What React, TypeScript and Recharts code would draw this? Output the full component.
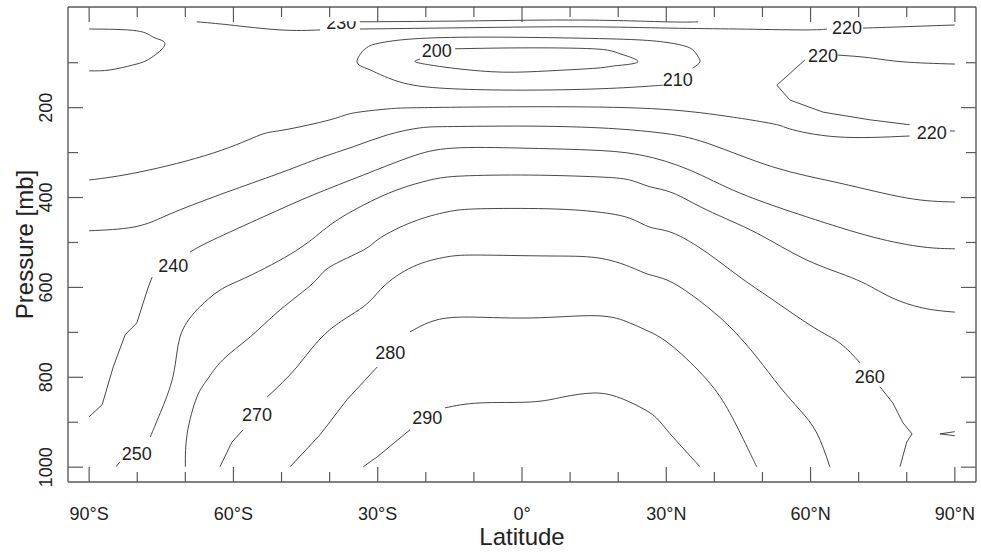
import React from 'react';
import { ScatterChart, Scatter, XAxis, YAxis } from 'recharts';

type Pt = [number, number];

// zonal mean temperature contours: [latitude (S < 0), pressure mb]
const c230a: Pt[] = [[-67.6, 9], [-60.7, 16], [-50.3, 27], [-42.0, 27]];
const c230b: Pt[] = [[-33.7, 9], [-10.8, 7], [12.1, 5], [30.1, 9], [36.6, 9]];
const c220topA: Pt[] = [[-33.7, 25], [-10.8, 22], [12.1, 20], [30.8, 23], [44.7, 25], [58.4, 27], [63.4, 25]];
const c220topB: Pt[] = [[70.9, 23], [79.2, 20], [90, 16]];
const c220sp: Pt[] = [[-90, 25], [-80.1, 29], [-76.7, 43], [-74.6, 52], [-74.8, 69], [-77.9, 94], [-80.9, 105], [-85.6, 116], [-90, 118]];
const c210: Pt[] = [
  [29.3, 150], [26.6, 152], [16.2, 158], [0, 161], [-14.3, 158], [-24.7, 145], [-31.6, 116], [-34.3, 98],
  [-32.6, 69], [-29.5, 56], [-22.7, 47], [-8.7, 43], [10, 45], [23.9, 49], [30.8, 56], [34.9, 67],
  [36.4, 83], [37, 98], [35.5, 112],
];
const c200: Pt[] = [
  [-13.9, 69], [-0.4, 67], [14.8, 69], [20.4, 80], [24.1, 98], [19.3, 107], [15.6, 112], [5.8, 118],
  [-3.9, 121], [-12.9, 114], [-19.1, 105], [-22.2, 98], [-21.2, 92],
];
const c220a: Pt[] = [
  [-90, 361], [-79.4, 343], [-64.2, 301], [-54.5, 261], [-49.7, 250], [-39.9, 227], [-35.1, 212],
  [-28.1, 203], [-21.2, 200], [0, 198], [24.5, 201], [40.5, 216], [52.2, 236], [55.6, 247],
  [65.5, 265], [80.6, 263],
];
const c220b: Pt[] = [[89, 252], [90, 252]];
const c220n: Pt[] = [[90, 103], [79.2, 98], [72.3, 89], [65.7, 83]];
const c220m: Pt[] = [[58.8, 94], [53, 150], [55.7, 183], [62.6, 210], [72.3, 227], [80.6, 238]];
const c230: Pt[] = [
  [-90, 474], [-80.9, 466], [-75.2, 446], [-69.6, 421], [-60.1, 383], [-49.7, 343], [-42, 312],
  [-35.1, 287], [-28.1, 261], [-21.2, 245], [-14.3, 242], [0, 241], [16.2, 245], [28.7, 256],
  [38.5, 279], [52.2, 332], [66.1, 368], [80, 401], [90, 410],
];
const c240a: Pt[] = [[-90, 888], [-87.3, 861], [-85, 777], [-82.5, 705], [-80.1, 679], [-77.7, 599], [-76.9, 577]];
const c240b: Pt[] = [
  [-69, 521], [-64.2, 494], [-53.8, 443], [-43.4, 394], [-33, 350], [-23.3, 310], [-14.3, 290], [0, 290],
  [13.5, 294], [24.5, 305], [34.9, 339], [45.3, 390], [59.2, 443], [73, 488], [83.4, 510], [90, 514],
];
const c250a: Pt[] = [[-84.4, 999], [-83.6, 988]];
const c250b: Pt[] = [
  [-77.3, 933], [-75.2, 879], [-72.5, 795], [-71.1, 710], [-67.6, 650], [-62.8, 606],
  [-57.2, 577], [-46.8, 517], [-39.9, 461], [-33, 417], [-26, 383], [-19.1, 361], [-12.3, 352], [1.7, 350],
  [15.6, 354], [22.4, 361], [26.6, 376], [31.4, 390], [38.5, 428], [48.8, 479], [59.2, 539], [69.6, 583],
  [76.5, 621], [83.4, 646], [90, 655],
];
const c260a: Pt[] = [
  [-70, 999], [-69.6, 924], [-67.6, 844], [-65.5, 806], [-62.2, 761], [-56.5, 710], [-50.3, 650],
  [-43.4, 590], [-39.9, 554], [-33, 517], [-29.5, 490], [-22.7, 454], [-15.6, 432], [-8.7, 425], [5.2, 425],
  [15.6, 432], [22.4, 446], [26.6, 466], [31.4, 479], [38.5, 523], [45.3, 577], [52.2, 628], [60.5, 688],
  [66.1, 724], [70.3, 768],
];
const c260b: Pt[] = [[74.4, 821], [77.1, 857], [79.2, 901], [81.1, 926], [80, 944], [78.6, 999]];
const c260c: Pt[] = [[90, 921], [86.9, 926], [90, 930]];
const c270a: Pt[] = [[-62.8, 999], [-60.3, 944], [-58, 917]];
const c270b: Pt[] = [
  [-53, 844], [-46.8, 777], [-40.5, 699], [-33, 643], [-28.9, 599], [-22.7, 554], [-15.6, 532], [-8.7, 528],
  [5.2, 530], [15.6, 534], [22.4, 554], [26.6, 572], [31.4, 590], [38.5, 643], [43.9, 695], [48.8, 755],
  [53.6, 821], [57.8, 873], [61.3, 924], [64, 999],
];
const c280a: Pt[] = [[-48.2, 999], [-42, 928], [-36.4, 850], [-30.1, 777]];
const c280b: Pt[] = [
  [-23.3, 699], [-19.1, 677], [-12.3, 666], [1.7, 668], [15.6, 663], [22.4, 679], [26.6, 699],
  [31.4, 732], [38.5, 806], [43.2, 879], [46.8, 955], [48.8, 999],
];
const c290a: Pt[] = [[-33, 999], [-30.1, 977], [-23.3, 917]];
const c290b: Pt[] = [[-16, 868], [-8.7, 857], [1.7, 855], [8.5, 844], [14.8, 835], [20.4, 846], [26.6, 879], [30.1, 917], [37, 999]];

// smooth curves vs. the kinked pieces that stay straight-segmented
const smoothContours = [
  c230a, c230b, c220topA, c220topB, c220sp, c210, c200, c220a, c220n, c230,
  c240b, c250b, c260a, c270b, c280b, c290b,
];
const kinkedContours = [c220b, c220m, c240a, c250a, c260b, c260c, c270a, c280a, c290a];

// contour labels
const labelText = ['230', '220', '220', '220', '210', '200', '240', '250', '260', '270', '280', '290'];
const labelLat = [-37.6, 67.6, 62.6, 85.2, 32.4, -17.7, -72.5, -80.1, 72.3, -55.1, -27.4, -19.7];
const labelP = [12, 23, 85, 256, 138, 74, 552, 970, 799, 884, 746, 890];

// axes
const latTicks = [-90, -80, -70, -60, -50, -40, -30, -20, -10, 0, 10, 20, 30, 40, 50, 60, 70, 80, 90];
const latMajor = [-90, -60, -30, 0, 30, 60, 90];
const latLabels = ['90°S', '60°S', '30°S', '0°', '30°N', '60°N', '90°N'];
const pTicks = [100, 200, 300, 400, 500, 600, 700, 800, 900, 1000];
const pMajor = [200, 400, 600, 800, 1000];
const pLabels = ['200', '400', '600', '800', '1000'];

const FONT = '"Liberation Sans", Arial, Helvetica, sans-serif';
const INK = '#222';
const FRAME = '#5a5a5a';
const LINE = '#333';

const noDot = () => <g />;

const labelData = labelText.map((t, i) => ({ x: labelLat[i], y: labelP[i], t, clip: labelP[i] < 20 }));

const LabelMark = (props: any) => {
  const { cx, cy } = props;
  const d = props.payload || props;
  const txt = (
    <text x={cx} y={cy} textAnchor="middle" dominantBaseline="central" fontSize={18} fontFamily={FONT} fill={INK}>
      {d.t}
    </text>
  );
  if (!d.clip) return <g>{txt}</g>;
  return (
    <g>
      <defs>
        <clipPath id="topLabelClip">
          <rect x={cx - 30} y={cy - 2} width={60} height={30} />
        </clipPath>
      </defs>
      <g clipPath="url(#topLabelClip)">{txt}</g>
    </g>
  );
};

const BottomTick = (props: any) => {
  const { x, y, payload } = props;
  const i = latMajor.indexOf(payload.value);
  return (
    <g>
      <line x1={x} y1={y} x2={x} y2={y - (i >= 0 ? 15 : 10)} stroke={FRAME} strokeWidth={1.2} />
      {i >= 0 && (
        <text x={x} y={y + 38} textAnchor="middle" fontSize={18} fontFamily={FONT} fill={INK}>
          {latLabels[i]}
        </text>
      )}
    </g>
  );
};

const TopTick = (props: any) => {
  const { x, y, payload } = props;
  const major = latMajor.indexOf(payload.value) >= 0;
  return <line x1={x} y1={y} x2={x} y2={y + (major ? 15 : 10)} stroke={FRAME} strokeWidth={1.2} />;
};

const LeftTick = (props: any) => {
  const { x, y, payload } = props;
  const i = pMajor.indexOf(payload.value);
  const bx = x - 16;
  return (
    <g>
      <line x1={x} y1={y} x2={x + (i >= 0 ? 15 : 10)} y2={y} stroke={FRAME} strokeWidth={1.2} />
      {i >= 0 && (
        <text x={bx} y={y} transform={`rotate(-90, ${bx}, ${y})`} textAnchor="middle" fontSize={18} fontFamily={FONT} fill={INK}>
          {pLabels[i]}
        </text>
      )}
    </g>
  );
};

const RightTick = (props: any) => {
  const { x, y, payload } = props;
  const major = pMajor.indexOf(payload.value) >= 0;
  return <line x1={x} y1={y} x2={x - (major ? 15 : 10)} y2={y} stroke={FRAME} strokeWidth={1.2} />;
};

const xTitle = (props: any) => {
  const vb = props.viewBox || { x: 68, y: 482, width: 908, height: 71 };
  return (
    <text x={vb.x + vb.width / 2} y={vb.y + 63} textAnchor="middle" fontSize={24} fontFamily={FONT} fill={INK}>
      Latitude
    </text>
  );
};

const yTitle = (props: any) => {
  const vb = props.viewBox || { x: 0, y: 7, width: 68, height: 475 };
  const tx = 33;
  const ty = vb.y + vb.height / 2;
  return (
    <text x={tx} y={ty} transform={`rotate(-90, ${tx}, ${ty})`} textAnchor="middle" fontSize={24} fontFamily={FONT} fill={INK}>
      Pressure [mb]
    </text>
  );
};

const latDomain = [-94.4, 94.4];
const pDomain = [-24, 1033];

export default function App() {
  return (
    <div style={{ position: 'absolute', left: 0, top: 0, background: '#fff' }}>
      <ScatterChart width={981} height={553} margin={{ top: 0, right: 0, bottom: 0, left: 0 }}>
        <XAxis
          xAxisId="b"
          dataKey="x"
          type="number"
          domain={latDomain}
          allowDataOverflow
          ticks={latTicks}
          interval={0}
          tickSize={0}
          tickMargin={0}
          tick={BottomTick}
          tickLine={false}
          axisLine={{ stroke: FRAME, strokeWidth: 1.4 }}
          height={71}
          label={xTitle}
        />
        <XAxis
          xAxisId="t"
          orientation="top"
          dataKey="x"
          type="number"
          domain={latDomain}
          allowDataOverflow
          ticks={latTicks}
          interval={0}
          tickSize={0}
          tickMargin={0}
          tick={TopTick}
          tickLine={false}
          axisLine={{ stroke: FRAME, strokeWidth: 1.4 }}
          height={7}
        />
        <YAxis
          yAxisId="l"
          dataKey="y"
          type="number"
          domain={pDomain}
          allowDataOverflow
          reversed
          ticks={pTicks}
          interval={0}
          tickSize={0}
          tickMargin={0}
          tick={LeftTick}
          tickLine={false}
          axisLine={{ stroke: FRAME, strokeWidth: 1.4 }}
          width={68}
          label={yTitle}
        />
        <YAxis
          yAxisId="r"
          orientation="right"
          dataKey="y"
          type="number"
          domain={pDomain}
          allowDataOverflow
          reversed
          ticks={pTicks}
          interval={0}
          tickSize={0}
          tickMargin={0}
          tick={RightTick}
          tickLine={false}
          axisLine={{ stroke: FRAME, strokeWidth: 1.4 }}
          width={5}
        />
        {smoothContours.map((c, i) => (
          <Scatter
            key={`s${i}`}
            xAxisId="b"
            yAxisId="l"
            data={c.map(([x, y]) => ({ x, y }))}
            line={{ stroke: LINE, strokeWidth: 0.9 }}
            lineJointType="natural"
            shape={noDot}
            isAnimationActive={false}
          />
        ))}
        {kinkedContours.map((c, i) => (
          <Scatter
            key={`k${i}`}
            xAxisId="b"
            yAxisId="l"
            data={c.map(([x, y]) => ({ x, y }))}
            line={{ stroke: LINE, strokeWidth: 0.9 }}
            shape={noDot}
            isAnimationActive={false}
          />
        ))}
        <Scatter xAxisId="b" yAxisId="l" data={labelData} shape={LabelMark} isAnimationActive={false} />
      </ScatterChart>
    </div>
  );
}
